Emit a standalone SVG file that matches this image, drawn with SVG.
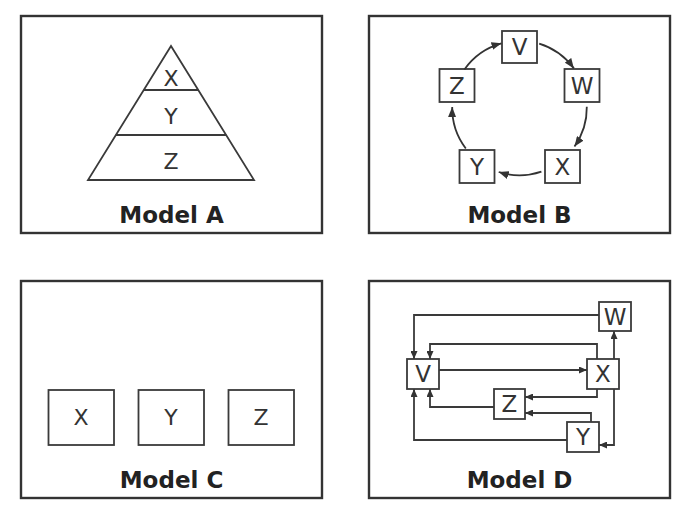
<svg xmlns="http://www.w3.org/2000/svg" width="692" height="518" viewBox="0 0 692 518">
<defs>
<style>
.panel{fill:#fff;stroke:#333;stroke-width:2.4}
.box{fill:#fff;stroke:#3a3a3a;stroke-width:1.8}
.ln{fill:none;stroke:#3a3a3a;stroke-width:1.8}
.lbl{font-family:"DejaVu Sans",Verdana,sans-serif;fill:#333;text-anchor:middle}
.ttl{font-family:"DejaVu Sans",Verdana,sans-serif;font-weight:bold;font-size:23px;fill:#222;text-anchor:middle}
.c{stroke:#333;stroke-width:1.8;fill:none}
.cd{stroke:#3a3a3a;stroke-width:1.8;fill:none}
</style>
<marker id="ah" markerUnits="userSpaceOnUse" markerWidth="10" markerHeight="8" refX="10" refY="4" orient="auto"><path d="M0,0 L10,4 L0,8 z" fill="#333"/></marker>
<marker id="ahs" markerUnits="userSpaceOnUse" markerWidth="8" markerHeight="7" refX="8" refY="3.5" orient="auto"><path d="M0,0 L8,3.5 L0,7 z" fill="#333"/></marker>
</defs>
<rect width="692" height="518" fill="#fff"/>

<g id="modelA">
<rect class="panel" x="21" y="16" width="301" height="217"/>
<path class="ln" d="M171,46 L88,180 L254,180 Z"/>
<line class="ln" x1="143.7" y1="90" x2="198.3" y2="90"/>
<line class="ln" x1="115.8" y1="135" x2="226.2" y2="135"/>
<text class="lbl" x="171" y="85.5" font-size="22">X</text>
<text class="lbl" x="171" y="123.5" font-size="22">Y</text>
<text class="lbl" x="171" y="168.5" font-size="22">Z</text>
<text class="ttl" x="171.5" y="223">Model A</text>
</g>

<g id="modelB">
<rect class="panel" x="369" y="16" width="301" height="217"/>
<g id="bV"><rect class="box" x="502" y="31" width="35" height="32"/><text class="lbl" x="519.5" y="55.4" font-size="23">V</text></g>
<g id="bW"><rect class="box" x="564.5" y="69" width="35" height="33"/><text class="lbl" x="582" y="93.7" font-size="23">W</text></g>
<g id="bX"><rect class="box" x="545" y="150" width="35" height="33"/><text class="lbl" x="562.5" y="174.7" font-size="23">X</text></g>
<g id="bY"><rect class="box" x="459.5" y="150" width="35" height="33"/><text class="lbl" x="477" y="174.7" font-size="23">Y</text></g>
<g id="bZ"><rect class="box" x="439.5" y="69" width="35" height="33"/><text class="lbl" x="457" y="93.7" font-size="23">Z</text></g>
<g id="bConnectors">
<path class="c" marker-end="url(#ah)" d="M539.2,43.6 A67.3,67.3 0 0 1 573.9,68.4"/>
<path class="c" marker-end="url(#ah)" d="M586.8,106.8 A67.3,67.3 0 0 1 574.5,146.5"/>
<path class="c" marker-end="url(#ah)" d="M541.4,171.6 A67.3,67.3 0 0 1 498.7,172.0"/>
<path class="c" marker-end="url(#ah)" d="M465.8,148.5 A67.3,67.3 0 0 1 452.2,107"/>
<path class="c" marker-end="url(#ah)" d="M464.4,69.4 A67.3,67.3 0 0 1 501.5,43.3"/>
</g>
<text class="ttl" x="519.5" y="223">Model B</text>
</g>

<g id="modelC">
<rect class="panel" x="21" y="281" width="301" height="217"/>
<g id="cX"><rect class="box" x="48.5" y="390" width="65.5" height="55"/><text class="lbl" x="81" y="425" font-size="22">X</text></g>
<g id="cY"><rect class="box" x="138.5" y="390" width="65.5" height="55"/><text class="lbl" x="171" y="425" font-size="22">Y</text></g>
<g id="cZ"><rect class="box" x="228.5" y="390" width="65.5" height="55"/><text class="lbl" x="261" y="425" font-size="22">Z</text></g>
<text class="ttl" x="171.5" y="488">Model C</text>
</g>

<g id="modelD">
<rect class="panel" x="369" y="281" width="301" height="217"/>
<g id="dConnectors">
<path class="cd" marker-end="url(#ahs)" d="M599,315 H414 V359"/>
<path class="cd" marker-end="url(#ahs)" d="M597,359 V344 H430 V359"/>
<path class="cd" marker-end="url(#ahs)" d="M439,370 H587"/>
<path class="cd" marker-end="url(#ahs)" d="M614,359 V331"/>
<path class="cd" marker-end="url(#ahs)" d="M614,389 V445 H599"/>
<path class="cd" marker-end="url(#ahs)" d="M597,389 V397 H525"/>
<path class="cd" marker-end="url(#ahs)" d="M591,422 V413 H525"/>
<path class="cd" marker-end="url(#ahs)" d="M494,407 H430 V389"/>
<path class="cd" marker-end="url(#ahs)" d="M567,440 H414 V389"/>
</g>
<g id="dW"><rect class="box" x="599" y="302" width="32" height="29"/><text class="lbl" x="615" y="324.8" font-size="23">W</text></g>
<g id="dV"><rect class="box" x="407" y="359" width="32" height="30"/><text class="lbl" x="423" y="382.4" font-size="23">V</text></g>
<g id="dX"><rect class="box" x="587" y="359" width="32" height="30"/><text class="lbl" x="603" y="382.4" font-size="23">X</text></g>
<g id="dZ"><rect class="box" x="494" y="389" width="31" height="30"/><text class="lbl" x="509.5" y="412.4" font-size="23">Z</text></g>
<g id="dY"><rect class="box" x="567" y="422" width="32" height="30"/><text class="lbl" x="583" y="445.4" font-size="23">Y</text></g>
<text class="ttl" x="519.5" y="488">Model D</text>
</g>
</svg>
